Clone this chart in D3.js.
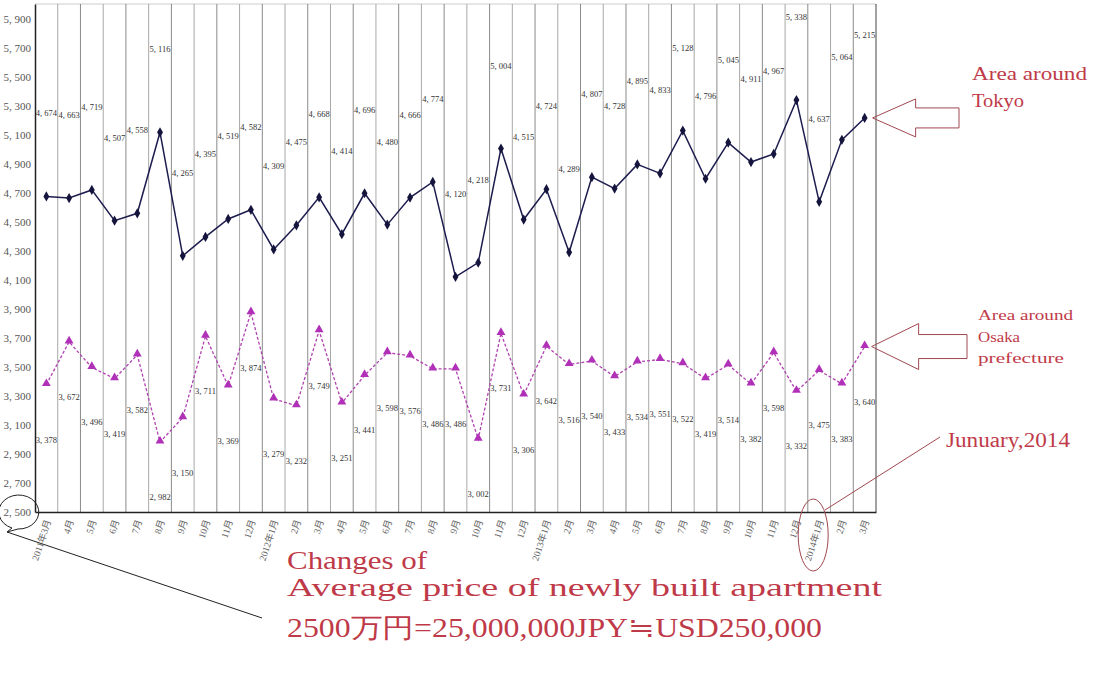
<!DOCTYPE html>
<html>
<head>
<meta charset="utf-8">
<script src="https://cdn.jsdelivr.net/npm/d3@7"></script>
<style>
    body { margin: 0; background: #fff; }
    svg { display: block; }
    .tick text { font-family: "Liberation Serif", "Noto Sans CJK SC", serif; }
    .note { font-family: "Liberation Serif", serif; fill: #bf3a48; }
</style>
</head>
<body>
<svg id="chart" width="1106" height="700"></svg>
<script>
// month labels, 2011年3月 - 2014年3月
const months = [
    '2011年3月', '4月', '5月', '6月', '7月', '8月', '9月', '10月', '11月', '12月',
    '2012年1月', '2月', '3月', '4月', '5月', '6月', '7月', '8月', '9月', '10月', '11月', '12月',
    '2013年1月', '2月', '3月', '4月', '5月', '6月', '7月', '8月', '9月', '10月', '11月', '12月',
    '2014年1月', '2月', '3月'
];

// average price, 万円
const tokyo = [
    4674, 4663, 4719, 4507, 4558, 5116, 4265, 4395, 4519, 4582,
    4309, 4475, 4668, 4414, 4696, 4480, 4666, 4774, 4120, 4218, 5004, 4515,
    4724, 4289, 4807, 4728, 4895, 4833, 5128, 4796, 5045, 4911, 4967, 5338,
    4637, 5064, 5215
];
const osaka = [
    3378, 3672, 3496, 3419, 3582, 2982, 3150, 3711, 3369, 3874,
    3279, 3232, 3749, 3251, 3441, 3598, 3576, 3486, 3486, 3002, 3731, 3306,
    3642, 3516, 3540, 3433, 3534, 3551, 3522, 3419, 3514, 3382, 3598, 3332,
    3475, 3383, 3640
];

const yTicks = d3.range(2500, 6000, 200);

const svg = d3.select('#chart');
const fmt = v => d3.format(',')(v).replace(',', ', ');

// scales
const x = d3.scaleBand().domain(d3.range(months.length)).range([35, 876]);
const y = d3.scaleLinear().domain([2500, 6000]).range([512, 4]);
const cx = i => x(i) + x.bandwidth() / 2;

// frame + vertical grid
svg.append('line')
    .attr('x1', 35).attr('x2', 876).attr('y1', 4).attr('y2', 4)
    .attr('stroke', '#ccc');
svg.append('g')
    .selectAll('line')
    .data(d3.range(1, months.length + 1))
    .join('line')
        .attr('x1', i => x(i) ?? x.range()[1])
        .attr('x2', i => x(i) ?? x.range()[1])
        .attr('y1', 4).attr('y2', 512)
        .attr('stroke', i => i === months.length ? '#444' : (i % 2 ? '#a8a8a8' : '#8a8a8a'))
        .attr('stroke-width', 1);

// axes
const yAxis = svg.append('g')
    .attr('transform', 'translate(35,0)')
    .call(d3.axisLeft(y).tickValues(yTicks).tickSize(0).tickPadding(4).tickFormat(fmt));
yAxis.select('.domain').attr('stroke', '#222').attr('stroke-width', 1.5);
yAxis.selectAll('text').attr('font-size', 11).attr('fill', '#555');

const xAxis = svg.append('g')
    .attr('transform', 'translate(0,512)')
    .call(d3.axisBottom(x).tickSize(0).tickFormat(i => months[i]));
xAxis.select('.domain').attr('stroke', '#222').attr('stroke-width', 1.5);
xAxis.selectAll('text')
    .attr('font-size', 9.5)
    .attr('fill', '#666')
    .attr('text-anchor', 'end')
    .attr('dy', 0)
    .attr('transform', 'translate(2,8) rotate(-72)');

// Tokyo series
svg.append('path')
    .datum(tokyo)
    .attr('fill', 'none')
    .attr('stroke', '#1c1c4e')
    .attr('stroke-width', 1.5)
    .attr('d', d3.line().x((d, i) => cx(i)).y(d => y(d)));

svg.append('g')
    .selectAll('path')
    .data(tokyo)
    .join('path')
        .attr('transform', (d, i) => `translate(${cx(i)},${y(d)})`)
        .attr('d', d3.symbol(d3.symbolDiamond, 30))
        .attr('fill', '#14143c');

svg.append('g')
    .selectAll('text')
    .data(tokyo)
    .join('text')
        .attr('x', (d, i) => cx(i))
        .attr('y', d => y(d) - 80)
        .attr('text-anchor', 'middle')
        .attr('font-family', 'Liberation Serif, serif')
        .attr('font-size', 8.5)
        .attr('fill', '#333')
        .text(fmt);

// Osaka series
svg.append('path')
    .datum(osaka)
    .attr('fill', 'none')
    .attr('stroke', '#b040b0')
    .attr('stroke-width', 1.3)
    .attr('stroke-dasharray', '3,2')
    .attr('d', d3.line().x((d, i) => cx(i)).y(d => y(d)));

svg.append('g')
    .selectAll('path')
    .data(osaka)
    .join('path')
        .attr('transform', (d, i) => `translate(${cx(i)},${y(d) - 1})`)
        .attr('d', d3.symbol(d3.symbolTriangle, 34))
        .attr('fill', '#b030b8');

svg.append('g')
    .selectAll('text')
    .data(osaka)
    .join('text')
        .attr('x', (d, i) => cx(i))
        .attr('y', d => y(d) + 58)
        .attr('text-anchor', 'middle')
        .attr('font-family', 'Liberation Serif, serif')
        .attr('font-size', 8.5)
        .attr('fill', '#333')
        .text(fmt);

// arrows pointing at the last points
function arrow(tipX, tipY, headLen, headHalf, shaftHalf, shaftEnd) {
    const hx = tipX + headLen;
    return [[tipX, tipY], [hx, tipY - headHalf], [hx, tipY - shaftHalf], [shaftEnd, tipY - shaftHalf],
        [shaftEnd, tipY + shaftHalf], [hx, tipY + shaftHalf], [hx, tipY + headHalf]];
}
const last = months.length - 1;
svg.append('polygon')
    .attr('points', arrow(cx(last) + 8, y(tokyo[last]), 43, 19, 10, 959).join(' '))
    .attr('fill', 'none').attr('stroke', '#a04850').attr('stroke-width', 1);
svg.append('polygon')
    .attr('points', arrow(cx(last) + 7, y(osaka[last]), 47, 23, 12, 967).join(' '))
    .attr('fill', 'none').attr('stroke', '#a04850').attr('stroke-width', 1);

// notes
const note = (txt, px, py, size, len) => svg.append('text')
    .attr('class', 'note')
    .attr('x', px).attr('y', py)
    .attr('font-size', size)
    .attr('textLength', len)
    .attr('lengthAdjust', 'spacingAndGlyphs')
    .text(txt);

note('Area around', 972, 80, 18, 115);
note('Tokyo', 972, 107, 18, 52);
note('Area around', 978, 320, 15, 95);
note('Osaka', 978, 342, 15, 42);
note('prefecture', 978, 363, 15, 86);
note('Junuary,2014', 946, 447, 20, 124);
note('Changes of', 287, 569, 26, 140);
note('Average price of newly built apartment', 287, 596, 26, 595);
note('2500万円=25,000,000JPY≒USD250,000', 287, 637, 27, 535);

// circle around 2014年1月
svg.append('ellipse')
    .attr('cx', cx(34) - 6).attr('cy', 535).attr('rx', 15).attr('ry', 36)
    .attr('fill', 'none').attr('stroke', '#a04850');
svg.append('line')
    .attr('x1', 940).attr('y1', 437).attr('x2', 825).attr('y2', 510)
    .attr('stroke', '#a04850');

// bubble around the 2,500 tick
svg.append('path')
    .attr('d', 'M12,528 A20,17 0 1 1 18,529 L7,532 Z')
    .attr('fill', 'none').attr('stroke', '#222').attr('stroke-width', 1);
svg.append('line')
    .attr('x1', 7).attr('y1', 532).attr('x2', 262).attr('y2', 618)
    .attr('stroke', '#222');
</script>
</body>
</html>
